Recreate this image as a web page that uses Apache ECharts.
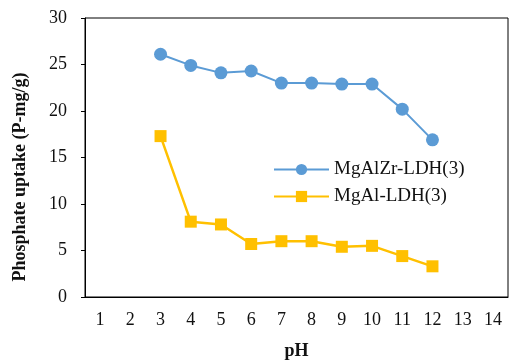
<!DOCTYPE html>
<html><head><meta charset="utf-8">
<script src="https://cdn.jsdelivr.net/npm/echarts@6/dist/echarts.min.js"></script>
<style>html,body{margin:0;padding:0;background:#fff}#c{width:509px;height:361px}</style>
</head><body><div id="c"></div>
<script>
var categories = ['1','2','3','4','5','6','7','8','9','10','11','12','13','14'];
var mgAlZr = [null,null,26.1,24.9,24.1,24.3,23.0,23.0,22.9,22.9,20.2,16.9,null,null];
var mgAl = [null,null,17.3,8.1,7.8,5.7,6.0,6.0,5.4,5.5,4.4,3.3,null,null];
var seriesNames = ['MgAlZr-LDH(3)','MgAl-LDH(3)'];
var yTicks = {min:0,max:30,interval:5};
var xTitle = 'pH';
var yTitle = 'Phosphate uptake (P-mg/g)';

var chart = echarts.init(document.getElementById('c'));
var font = 'Liberation Serif';
chart.setOption({
  animation:false,
  textStyle:{fontFamily:font},
  grid:{left:85,top:18,right:1,bottom:64,containLabel:false,outerBoundsMode:'none',show:true,borderColor:'#000',borderWidth:1},
  legend:{
    left:268, top:155, orient:'vertical', itemGap:8, itemWidth:55, itemHeight:14,
    textStyle:{fontFamily:font,fontSize:19,color:'#111'},
    data:seriesNames
  },
  graphic:[{type:'text',x:20,y:177,rotation:Math.PI/2,
    style:{text:yTitle,font:'bold 18px "Liberation Serif"',fill:'#111',align:'center',verticalAlign:'middle'}}],
  xAxis:{type:'category',data:categories,boundaryGap:true,
    name:xTitle,nameLocation:'middle',nameGap:45,
    nameTextStyle:{fontFamily:font,fontSize:18,fontWeight:'bold',color:'#111'},
    axisLine:{lineStyle:{color:'#000'}},axisTick:{show:false},
    axisLabel:{fontFamily:font,fontSize:18,color:'#111',margin:14}},
  yAxis:{type:'value',min:yTicks.min,max:yTicks.max,interval:yTicks.interval,
    axisLine:{show:true,lineStyle:{color:'#000'}},
    axisTick:{show:true,length:4,lineStyle:{color:'#000'}},
    splitLine:{show:false},
    axisLabel:{fontFamily:font,fontSize:18,color:'#111',margin:18}},
  series:[
    {name:seriesNames[0],type:'line',data:mgAlZr,symbol:'circle',symbolSize:13,
     itemStyle:{color:'#5B9BD5'},lineStyle:{color:'#5B9BD5',width:2}},
    {name:seriesNames[1],type:'line',data:mgAl,symbol:'rect',symbolSize:12,
     itemStyle:{color:'#FFC000'},lineStyle:{color:'#FFC000',width:2.5}}
  ]
});
</script></body></html>
